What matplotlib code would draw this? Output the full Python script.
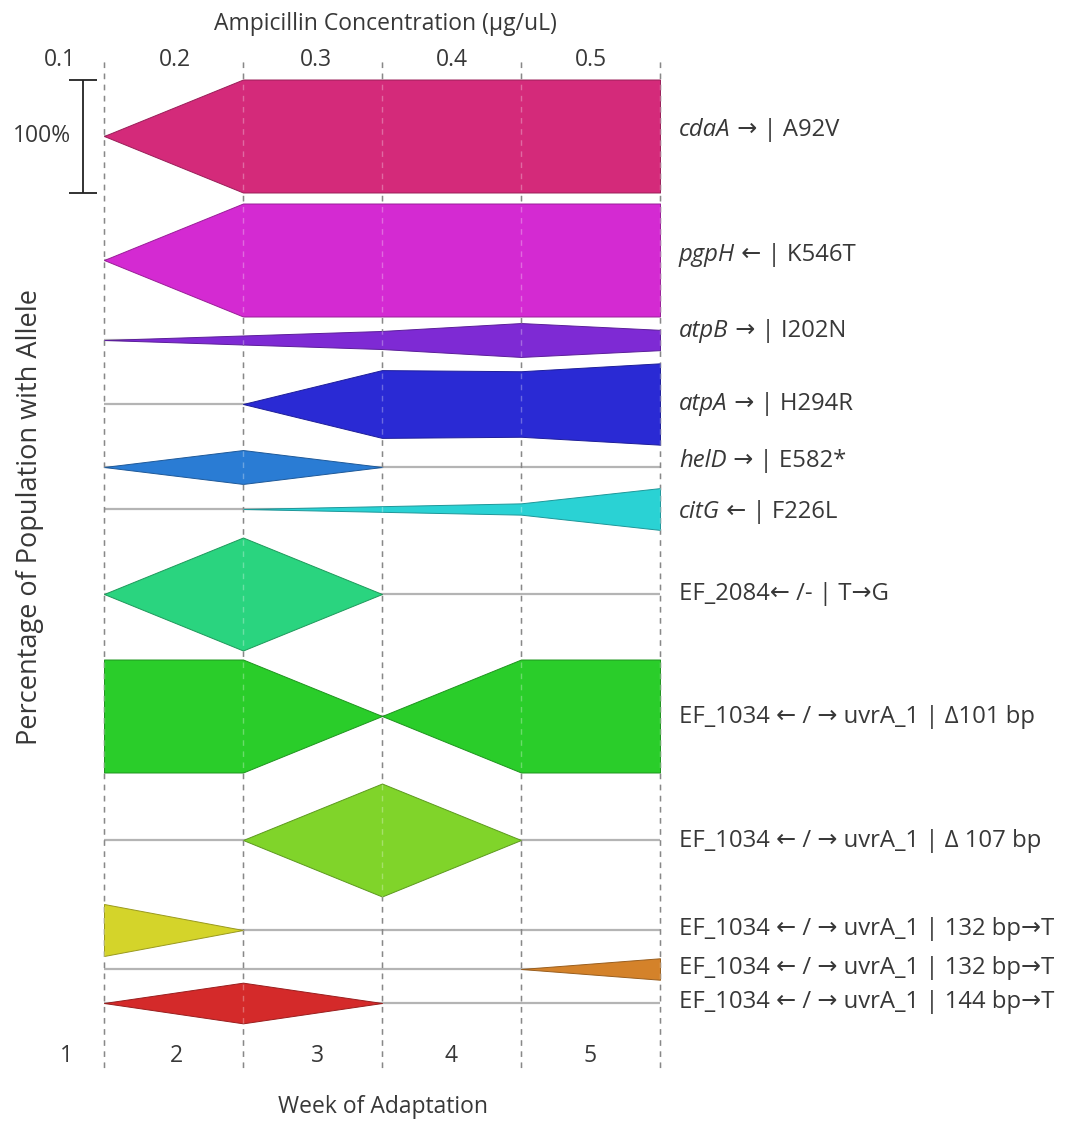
import numpy as np
import matplotlib.pyplot as plt
from matplotlib.colors import to_rgb

# time points and the ampicillin step used for each week
weeks = [1, 2, 3, 4, 5]
week_labels = ['1', '2', '3', '4', '5']
conc_labels = ['0.1', '0.2', '0.3', '0.4', '0.5']

# allele names: italic gene part + plain remainder
genes = ['cdaA', 'pgpH', 'atpB', 'atpA', 'helD', 'citG',
         '', '', '', '', '', '']
details = [' → | A92V',
           ' ← | K546T',
           ' → | I202N',
           ' → | H294R',
           ' → | E582*',
           ' ← | F226L',
           'EF_2084← /- | T→G',
           'EF_1034 ← / → uvrA_1 | Δ101 bp',
           'EF_1034 ← / → uvrA_1 | Δ 107 bp',
           'EF_1034 ← / → uvrA_1 | 132 bp→T',
           'EF_1034 ← / → uvrA_1 | 132 bp→T',
           'EF_1034 ← / → uvrA_1 | 144 bp→T']

# percentage of population carrying each allele, weeks 1..5
freq_cdaA = [0, 100, 100, 100, 100]
freq_pgpH = [0, 100, 100, 100, 100]
freq_atpB = [0, 8, 16, 30, 18]
freq_atpA = [0, 0, 60, 58, 72]
freq_helD = [0, 30, 0, 0, 0]
freq_citG = [0, 0, 5, 10, 37]
freq_ef2084 = [0, 100, 0, 0, 0]
freq_del101 = [100, 100, 0, 100, 100]
freq_del107 = [0, 0, 100, 0, 0]
freq_ins132a = [46, 0, 0, 0, 0]
freq_ins132b = [0, 0, 0, 0, 19]
freq_ins144 = [0, 36, 0, 0, 0]

freqs = [freq_cdaA, freq_pgpH, freq_atpB, freq_atpA, freq_helD, freq_citG,
         freq_ef2084, freq_del101, freq_del107, freq_ins132a, freq_ins132b,
         freq_ins144]

colors = ['#D42A7A', '#D42AD2', '#7E2AD4', '#2A2AD4', '#2A7CD4', '#2AD2D4',
          '#2AD47F', '#2ACD2A', '#80D42A', '#D4D42A', '#D4822A', '#D42A2A']

# ---- layout (pixel positions on a 1089 x 1122 canvas) ----
W, H = 1089, 1122
X0, WEEK_W = 104, 139      # week 1 line and spacing between weeks
UNIT = 1.13                # pixels per percent

row_px = [136, 260, 340, 404, 467, 509, 594, 716, 840, 930, 969, 1003]
label_px = [130, 255, 331, 404, 461, 512, 594, 717, 841, 929, 968, 1002]


def wx(px):
    return 1 + (np.asarray(px, dtype=float) - X0) / WEEK_W


def wy(px):
    return np.asarray(px, dtype=float) / UNIT


def darker(c, k=0.72):
    return tuple(v * k for v in to_rgb(c))


plt.rcParams['font.family'] = ['Open Sans', 'DejaVu Sans']
TXT = '#383838'
FS = 16.5
FS_LAB = 17.2

fig = plt.figure(figsize=(W / 100, H / 100), dpi=100)
ax = fig.add_axes([0, 0, 1, 1])
ax.set_xlim(wx(0), wx(W))
ax.set_ylim(wy(H), 0)
ax.axis('off')

# week separators
ax.vlines(weeks, wy(62), wy(1070), colors='#555555', lw=1.0,
          linestyles=(0, (4, 4)), zorder=2)
ax.vlines(weeks, wy(62), wy(1070), colors='white', lw=1.0, alpha=0.3,
          linestyles=(0, (4, 4)), zorder=4)

x = np.array(weeks, dtype=float)
for yc_px, f, c in zip(row_px, freqs, colors):
    yc = wy(yc_px)
    ax.plot([weeks[0], weeks[-1]], [yc, yc], color='#b4b4b4', lw=1.6,
            zorder=1, solid_capstyle='butt')
    f = np.array(f, dtype=float)
    nz = np.nonzero(f)[0]
    i0 = max(nz[0] - 1, 0)
    i1 = min(nz[-1] + 1, len(f) - 1)
    xs = x[i0:i1 + 1]
    half = f[i0:i1 + 1] / 2
    ax.fill_between(xs, yc - half, yc + half, facecolor=c,
                    edgecolor=darker(c), lw=0.7, zorder=3)

# 100% scale bar next to the first row
ax.errorbar(wx(83), wy(row_px[0]), yerr=50, fmt='none', ecolor='#222222',
            elinewidth=1.3, capsize=10, capthick=1.3)
ax.text(wx(42), wy(row_px[0]), '100%', ha='center', va='center',
        fontsize=FS, color=TXT)

# allele labels
lx = wx(679)
for gene, rest, ly in zip(genes, details, label_px):
    if gene:
        t = ax.text(lx, wy(ly), gene, style='italic', ha='left',
                    va='center', fontsize=FS_LAB, color=TXT)
        ax.annotate(rest, xy=(1, 0), xycoords=t, ha='left', va='bottom',
                    fontsize=FS_LAB, color=TXT)
    else:
        ax.text(lx, wy(ly), rest, ha='left', va='center', fontsize=FS_LAB,
                color=TXT)

# axis texts
ax.text(wx(385), wy(24), 'Ampicillin Concentration (µg/uL)', ha='center',
        va='center', fontsize=FS, color=TXT)
for px, s in zip([60, 175, 316, 452, 591], conc_labels):
    ax.text(wx(px), wy(60), s, ha='center', va='center', fontsize=FS,
            color=TXT)
for px, s in zip([66, 176, 317, 451, 590], week_labels):
    ax.text(wx(px), wy(1056), s, ha='center', va='center', fontsize=FS,
            color=TXT)
ax.text(wx(383), wy(1107), 'Week of Adaptation', ha='center', va='center',
        fontsize=FS, color=TXT)
ax.text(wx(30), wy(517), 'Percentage of Population with Allele',
        rotation=90, ha='center', va='center', fontsize=19.5, color=TXT)

fig.savefig('out.png', dpi=100, facecolor='white')
